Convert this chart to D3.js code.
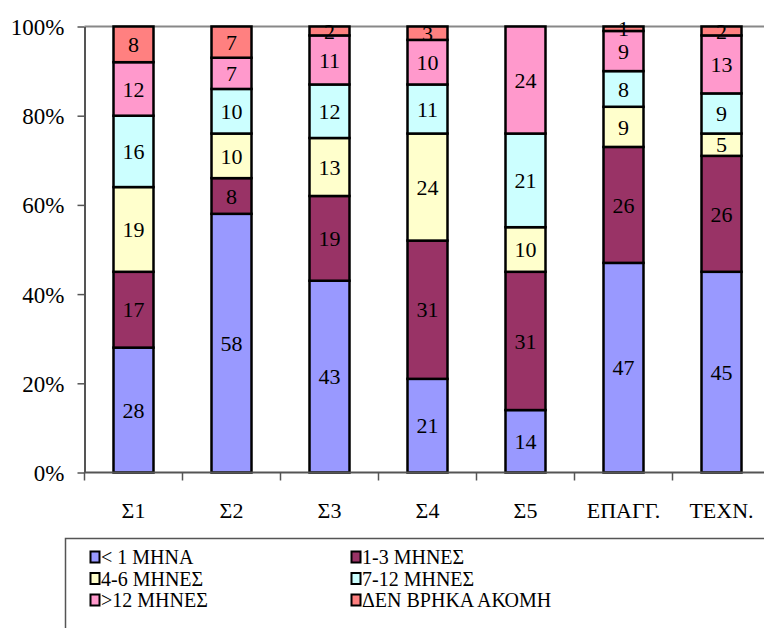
<!DOCTYPE html>
<html><head><meta charset="utf-8">
<script src="https://cdn.jsdelivr.net/npm/d3@7"></script>
<style>body{margin:0;background:#fff}svg{display:block}</style>
</head><body><svg id="c" width="764" height="628" font-family="Liberation Serif"></svg>
<script>
const categories = ["Σ1","Σ2","Σ3","Σ4","Σ5","ΕΠΑΓΓ.","ΤΕΧΝ."];
const seriesNames = ["< 1 ΜΗΝΑ","1-3 ΜΗΝΕΣ","4-6 ΜΗΝΕΣ","7-12 ΜΗΝΕΣ",">12 ΜΗΝΕΣ","ΔΕΝ ΒΡΗΚΑ ΑΚΟΜΗ"];
const lt1 = [28,58,43,21,14,47,45];
const m1to3 = [17,8,19,31,31,26,26];
const m4to6 = [19,10,13,24,10,9,5];
const m7to12 = [16,10,12,11,21,8,9];
const gt12 = [12,7,11,10,24,9,13];
const notYet = [8,7,2,3,0,1,2];
const yTicks = [0,20,40,60,80,100];
const colors = ["#9999FF","#993366","#FFFFCC","#CCFFFF","#FF99CC","#FF8080"];
const FONT = "Liberation Serif";

const seriesVals = [lt1,m1to3,m4to6,m7to12,gt12,notYet];
const rows = categories.map((c,i)=>{const o={cat:c}; seriesNames.forEach((s,j)=>o[s]=seriesVals[j][i]); return o;});
const stack = d3.stack().keys(seriesNames).offset(d3.stackOffsetExpand)(rows);

const svg = d3.select("#c");
const x0 = 84.5, x1 = 770.5, yTop = 26.5, yBot = 472.5;
const x = d3.scaleBand().domain(categories).range([x0,x1]);
const y = d3.scaleLinear().domain([0,1]).range([yBot,yTop]);
const barW = 40;

svg.append("line").attr("x1",x0).attr("x2",764).attr("y1",yTop).attr("y2",yTop).attr("stroke","#888").attr("stroke-width",2);

const g = svg.append("g");
stack.forEach((layer,j)=>{
  layer.forEach((d,i)=>{
    const v = seriesVals[j][i];
    if(v<=0) return;
    const cx = x(categories[i]) + x.bandwidth()/2;
    g.append("rect").attr("x",cx-barW/2).attr("y",y(d[1])).attr("width",barW).attr("height",y(d[0])-y(d[1]))
      .attr("fill",colors[j]).attr("stroke","#000").attr("stroke-width",2.5);
  });
});
stack.forEach((layer,j)=>{
  layer.forEach((d,i)=>{
    const v = seriesVals[j][i];
    if(v<=0) return;
    const cx = x(categories[i]) + x.bandwidth()/2;
    g.append("text").attr("x",cx).attr("y",(y(d[0])+y(d[1]))/2).attr("dy","0.35em")
      .attr("text-anchor","middle").attr("font-family",FONT).attr("font-size",22).attr("fill","#000").text(v);
  });
});

const yAxis = svg.append("g").attr("transform",`translate(${x0},0)`)
  .call(d3.axisLeft(y).tickValues(yTicks.map(t=>t/100)).tickFormat((d,i)=>yTicks[i]+"%").tickSize(7).tickSizeOuter(0))
  .attr("font-family",FONT).attr("font-size",22);
yAxis.select(".domain").attr("stroke","#555").attr("stroke-width",2);
yAxis.selectAll(".tick line").attr("stroke","#555").attr("stroke-width",1.5);
yAxis.selectAll("text").attr("font-family",FONT).attr("font-size",23).attr("x",-20).attr("dy","0.35em").attr("fill","#000");

const xAxis = svg.append("g").attr("transform",`translate(0,${yBot})`)
  .call(d3.axisBottom(x).tickSize(0).tickSizeOuter(0))
  .attr("font-family",FONT).attr("font-size",22);
xAxis.select(".domain").attr("stroke","#555").attr("stroke-width",2).attr("d",`M${x0},0H764`);
xAxis.selectAll("text").attr("font-family",FONT).attr("font-size",22).attr("y",38).attr("dy","0.35em").attr("fill","#000");
const bounds = categories.map(c=>x(c)).concat([x1]);
svg.append("g").selectAll("line").data(bounds).join("line")
  .attr("x1",d=>d).attr("x2",d=>d).attr("y1",yBot).attr("y2",yBot+8).attr("stroke","#555").attr("stroke-width",1.5);

const lg = svg.append("g").attr("font-family",FONT).attr("font-size",20);
lg.append("rect").attr("x",65.5).attr("y",538.5).attr("width",720).attr("height",120).attr("fill","#fff").attr("stroke","#555").attr("stroke-width",1.5);
seriesNames.forEach((s,j)=>{
  const col = j%2, row = Math.floor(j/2);
  const lx = col===0 ? 90 : 351, ly = 557 + row*21.5;
  lg.append("rect").attr("x",lx+0.5).attr("y",ly-5.5).attr("width",9).attr("height",11).attr("fill",colors[j]).attr("stroke","#000").attr("stroke-width",2);
  lg.append("text").attr("x",lx+11).attr("y",ly).attr("dy","0.35em").attr("font-family",FONT).attr("font-size",20).attr("fill","#000").text(s);
});
</script></body></html>
